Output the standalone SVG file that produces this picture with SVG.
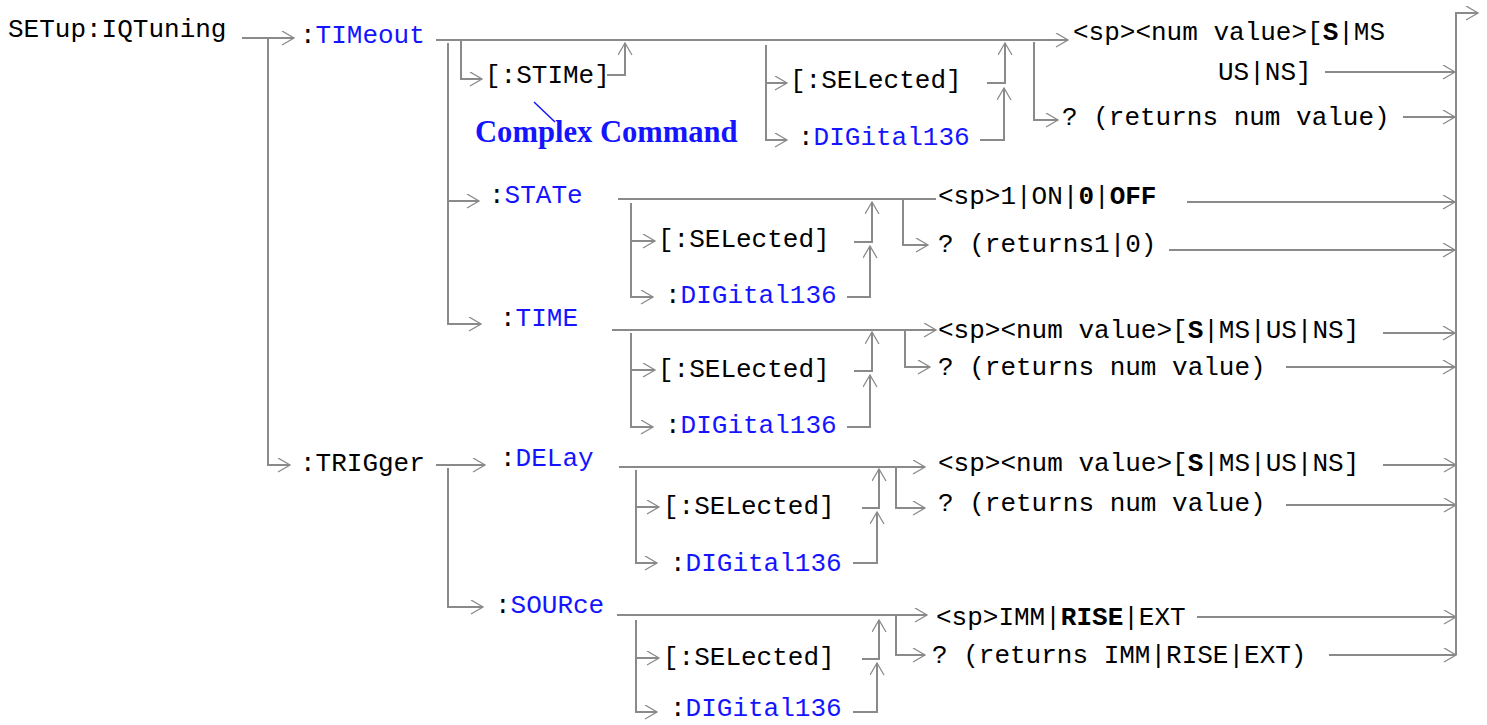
<svg xmlns="http://www.w3.org/2000/svg" width="1487" height="725" viewBox="0 0 1487 725">
<style>
.t{font-family:"Liberation Mono","Courier New",monospace;font-size:26px;fill:#000}
.b{fill:#1414ff}
.w{font-weight:bold}
.cc{font-family:"Liberation Serif","Times New Roman",serif;font-size:30.6px;font-weight:bold;fill:#1414ff}
.c{fill:none;stroke:#8a8a8a;stroke-width:2}
.a{marker-end:url(#ah)}
</style>
<defs>
<marker id="ah" markerUnits="userSpaceOnUse" markerWidth="16" markerHeight="16" refX="13" refY="7" orient="auto">
<path d="M1,0 L13,7 L1,14" fill="none" stroke="#8a8a8a" stroke-width="1.3"/>
</marker>
</defs>
<rect width="1487" height="725" fill="#fff"/>
<g id="connectors">
<path class="c a" d="M242,38 H294"/>
<path class="c a" d="M268,38 V465 H290"/>
<path class="c a" d="M436,40 H1068"/>
<path class="c a" d="M448,43 V324 H481"/>
<path class="c a" d="M448,201 H479"/>
<path class="c a" d="M461,40 V79 H482"/>
<path class="c a" d="M607,75 H625 V43"/>
<path d="M534,102 L555,122" stroke="#1414ff" stroke-width="1.5" fill="none"/>
<path class="c a" d="M766,45 V140 H787"/>
<path class="c a" d="M766,83 H787"/>
<path class="c a" d="M987,83 H1005 V43"/>
<path class="c a" d="M980,140 H1004 V88"/>
<path class="c a" d="M1034,42 V120 H1058"/>
<path class="c a" d="M1325,72 H1455"/>
<path class="c a" d="M1403,117 H1455"/>
<path class="c" d="M618,199 H936"/>
<path class="c a" d="M631,203 V297 H653"/>
<path class="c a" d="M631,241 H655"/>
<path class="c a" d="M854,242 H872 V202"/>
<path class="c a" d="M847,297 H870 V246"/>
<path class="c a" d="M903,199 V245 H928"/>
<path class="c a" d="M1187,202 H1455"/>
<path class="c a" d="M1169,250 H1455"/>
<path class="c a" d="M612,330 H936"/>
<path class="c a" d="M631,333 V427 H653"/>
<path class="c a" d="M631,370 H655"/>
<path class="c a" d="M854,371 H872 V332"/>
<path class="c a" d="M847,427 H870 V375"/>
<path class="c a" d="M905,330 V367 H930"/>
<path class="c a" d="M1383,333 H1455"/>
<path class="c a" d="M1286,367 H1455"/>
<path class="c a" d="M436,465 H485"/>
<path class="c a" d="M448,468 V607 H483"/>
<path class="c a" d="M619,467 H925"/>
<path class="c a" d="M636,470 V563 H657"/>
<path class="c a" d="M636,507 H659"/>
<path class="c a" d="M862,508 H879 V469"/>
<path class="c a" d="M853,563 H877 V512"/>
<path class="c a" d="M896,467 V508 H925"/>
<path class="c a" d="M1383,465 H1456"/>
<path class="c a" d="M1286,505 H1456"/>
<path class="c a" d="M617,615 H927"/>
<path class="c a" d="M636,620 V712 H657"/>
<path class="c a" d="M636,658 H659"/>
<path class="c a" d="M862,659 H879 V620"/>
<path class="c a" d="M853,712 H877 V663"/>
<path class="c a" d="M896,615 V655 H925"/>
<path class="c a" d="M1197,617 H1456"/>
<path class="c a" d="M1329,655 H1456"/>
<path class="c a" d="M1456,655 V13 H1478"/>
</g>
<g id="root"><text class="t" x="8" y="37">SETup:IQTuning</text></g>
<g id="timeout"><text class="t" x="300" y="43">:<tspan class="b">TIMeout</tspan></text></g>
<g id="stime"><text class="t" x="485" y="83">[:STIMe]</text></g>
<g id="complex"><text class="cc" x="475" y="142">Complex Command</text></g>
<g id="timeout-sel"><text class="t" x="790" y="88">[:SELected]</text></g>
<g id="timeout-dig"><text class="t" x="798" y="145">:<tspan class="b">DIGital136</tspan></text></g>
<g id="timeout-val"><text class="t" x="1073" y="40">&lt;sp&gt;&lt;num value&gt;[<tspan class="w">S</tspan>|MS</text><text class="t" x="1218" y="80">US|NS]</text></g>
<g id="timeout-q"><text class="t" x="1062" y="125">? (returns num value)</text></g>
<g id="state"><text class="t" x="489" y="203">:<tspan class="b">STATe</tspan></text></g>
<g id="state-sel"><text class="t" x="658" y="247">[:SELected]</text></g>
<g id="state-dig"><text class="t" x="665" y="303">:<tspan class="b">DIGital136</tspan></text></g>
<g id="state-val"><text class="t" x="938" y="204">&lt;sp&gt;1|ON|<tspan class="w">0</tspan>|<tspan class="w">OFF</tspan></text></g>
<g id="state-q"><text class="t" x="938" y="252">? (returns1|0)</text></g>
<g id="time"><text class="t" x="500" y="326">:<tspan class="b">TIME</tspan></text></g>
<g id="time-sel"><text class="t" x="658" y="377">[:SELected]</text></g>
<g id="time-dig"><text class="t" x="665" y="433">:<tspan class="b">DIGital136</tspan></text></g>
<g id="time-val"><text class="t" x="938" y="338">&lt;sp&gt;&lt;num value&gt;[<tspan class="w">S</tspan>|MS|US|NS]</text></g>
<g id="time-q"><text class="t" x="938" y="375">? (returns num value)</text></g>
<g id="trigger"><text class="t" x="300" y="471">:TRIGger</text></g>
<g id="delay"><text class="t" x="500" y="466">:<tspan class="b">DELay</tspan></text></g>
<g id="delay-sel"><text class="t" x="663" y="514">[:SELected]</text></g>
<g id="delay-dig"><text class="t" x="670" y="571">:<tspan class="b">DIGital136</tspan></text></g>
<g id="delay-val"><text class="t" x="938" y="471">&lt;sp&gt;&lt;num value&gt;[<tspan class="w">S</tspan>|MS|US|NS]</text></g>
<g id="delay-q"><text class="t" x="938" y="511">? (returns num value)</text></g>
<g id="source"><text class="t" x="495" y="613">:<tspan class="b">SOURce</tspan></text></g>
<g id="source-sel"><text class="t" x="663" y="665">[:SELected]</text></g>
<g id="source-dig"><text class="t" x="670" y="716">:<tspan class="b">DIGital136</tspan></text></g>
<g id="source-val"><text class="t" x="936" y="625">&lt;sp&gt;IMM|<tspan class="w">RISE</tspan>|EXT</text></g>
<g id="source-q"><text class="t" x="932" y="663">? (returns IMM|RISE|EXT)</text></g>
</svg>
